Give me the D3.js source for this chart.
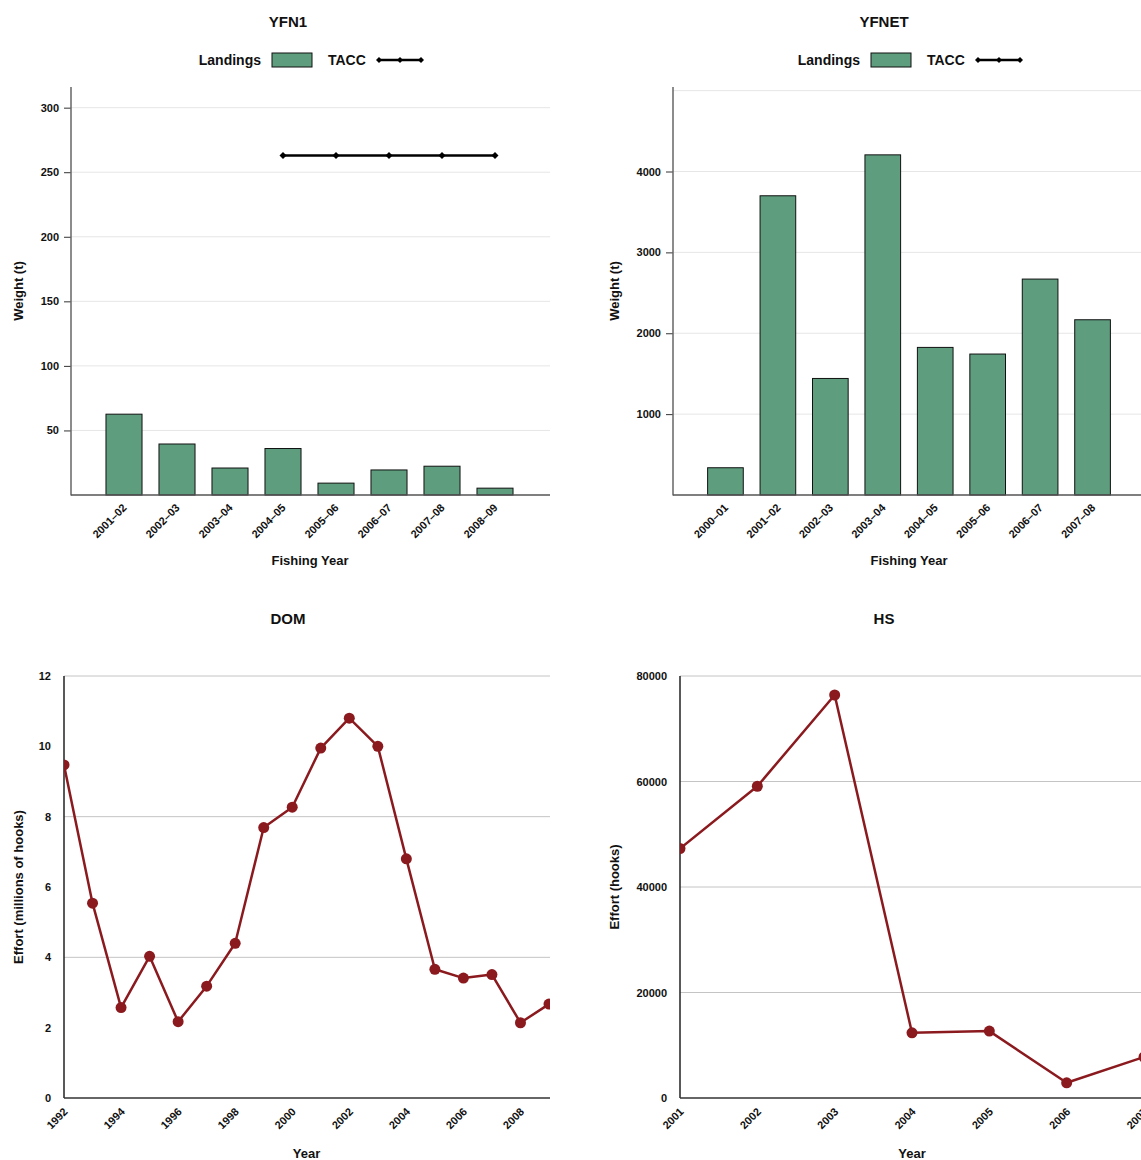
<!DOCTYPE html>
<html>
<head>
<meta charset="utf-8">
<script src="https://cdn.jsdelivr.net/npm/d3@7"></script>
<style>
  html, body { margin: 0; padding: 0; background: #fff; overflow: hidden; }
  svg { display: block; font-family: "Liberation Sans", Arial, sans-serif; font-weight: bold; }
</style>
</head>
<body>
<svg id="chart" width="1141" height="1160"></svg>
<script>
// ---- Landings and TACC (tonnes) by fishing year ----
const yfn1Years = ["2001–02", "2002–03", "2003–04", "2004–05", "2005–06", "2006–07", "2007–08", "2008–09"];
const yfn1Landings = [62.6, 39.5, 20.9, 36.0, 9.2, 19.4, 22.3, 5.3];
const yfn1TaccYears = ["2004–05", "2005–06", "2006–07", "2007–08", "2008–09"];
const yfn1Tacc = [263, 263, 263, 263, 263];
const yfn1Ticks = [50, 100, 150, 200, 250, 300];

const yfnetYears = ["2000–01", "2001–02", "2002–03", "2003–04", "2004–05", "2005–06", "2006–07", "2007–08"];
const yfnetLandings = [337, 3700, 1441, 4206, 1825, 1743, 2670, 2167];
const yfnetTicks = [1000, 2000, 3000, 4000];
const yfnetGrid = [1000, 2000, 3000, 4000, 5000];

// ---- Fishing effort by calendar year ----
const domYears = [1992, 1993, 1994, 1995, 1996, 1997, 1998, 1999, 2000, 2001, 2002, 2003, 2004, 2005, 2006, 2007, 2008, 2009];
const domEffort = [9.47, 5.54, 2.57, 4.03, 2.17, 3.18, 4.40, 7.69, 8.27, 9.95, 10.8, 10.0, 6.80, 3.66, 3.41, 3.51, 2.14, 2.67];
const domYTicks = [0, 2, 4, 6, 8, 10, 12];
const domGrid = [4, 8, 12];
const domXTicks = [1992, 1994, 1996, 1998, 2000, 2002, 2004, 2006, 2008];

const hsYears = [2001, 2002, 2003, 2004, 2005, 2006, 2007];
const hsEffort = [47300, 59100, 76400, 12350, 12680, 2880, 7770];
const hsYTicks = [0, 20000, 40000, 60000, 80000];
const hsGrid = [20000, 40000, 60000, 80000];

const svg = d3.select("#chart");
const BAR_FILL = "#5e9e7f";
const LINE_COL = "#8b1a1f";

function text(g, x, y, str, size, opts = {}) {
  const t = g.append("text").attr("x", x).attr("y", y).text(str)
    .attr("font-size", size).attr("fill", "#111")
    .attr("text-anchor", opts.anchor || "middle");
  if (opts.rotate) t.attr("transform", `rotate(${opts.rotate},${x},${y})`);
  if (opts.dy) t.attr("dy", opts.dy);
  return t;
}

function diamond(g, x, y, r) {
  g.append("path")
    .attr("d", `M${x},${y - r}L${x + r},${y}L${x},${y + r}L${x - r},${y}Z`)
    .attr("fill", "#000");
}

// Bar chart of landings with optional TACC line
function barPanel(cfg) {
  const g = svg.append("g");
  const x = d3.scalePoint().domain(cfg.cats).range([cfg.left, cfg.right]).padding(1);
  const y = d3.scaleLinear().domain([0, cfg.ymax]).range([cfg.bottom, cfg.top]);
  const bw = x.step() * 0.68;

  // gridlines
  g.selectAll(".grid").data(cfg.grid).join("line")
    .attr("x1", cfg.left).attr("x2", cfg.gridRight)
    .attr("y1", d => y(d)).attr("y2", d => y(d))
    .attr("stroke", "#e6e6e6").attr("stroke-width", 1);

  // bars
  g.selectAll(".bar").data(cfg.values).join("rect")
    .attr("x", (d, i) => x(cfg.cats[i]) - bw / 2)
    .attr("y", d => y(d))
    .attr("width", bw)
    .attr("height", d => y(0) - y(d))
    .attr("fill", BAR_FILL).attr("stroke", "#111").attr("stroke-width", 1);

  // TACC line
  if (cfg.tacc) {
    const pts = cfg.taccCats.map((c, i) => [x(c), y(cfg.tacc[i])]);
    g.append("path").attr("d", d3.line()(pts))
      .attr("fill", "none").attr("stroke", "#000").attr("stroke-width", 2.5);
    pts.forEach(p => diamond(g, p[0], p[1], 3.5));
  }

  // y axis
  const ya = g.append("g").attr("transform", `translate(${cfg.left},0)`)
    .call(d3.axisLeft(y).tickValues(cfg.ticks).tickSize(7).tickPadding(5).tickFormat(d3.format("d")));
  ya.select(".domain").remove();
  ya.selectAll(".tick line").attr("stroke", "#333");
  ya.selectAll("text").attr("font-size", 11).attr("fill", "#111").attr("font-family", null);
  g.append("line").attr("x1", cfg.left).attr("x2", cfg.left)
    .attr("y1", cfg.top).attr("y2", cfg.bottom + 0.5)
    .attr("stroke", "#666").attr("stroke-width", 1.5);

  // x axis
  g.append("line").attr("x1", cfg.left).attr("x2", cfg.gridRight)
    .attr("y1", cfg.bottom).attr("y2", cfg.bottom)
    .attr("stroke", "#555").attr("stroke-width", 1.5);
  cfg.cats.forEach(c => {
    const tx = x(c) - 2, ty = cfg.bottom + 8;
    g.append("text").text(c).attr("font-size", 11).attr("fill", "#111")
      .attr("text-anchor", "end").attr("dy", "0.7em")
      .attr("transform", `translate(${tx},${ty}) rotate(-45)`);
  });

  // titles
  text(g, cfg.titleX, 27, cfg.title, 15);
  text(g, cfg.xlabX, 565, "Fishing Year", 13);
  text(g, cfg.ylabX, (cfg.top + cfg.bottom) / 2, "Weight (t)", 13, { rotate: -90 });

  // legend
  const lx = cfg.xlabX - 111, ly = 60;
  text(g, lx + 62, ly + 5, "Landings", 14, { anchor: "end" });
  g.append("rect").attr("x", lx + 73).attr("y", ly - 7).attr("width", 40).attr("height", 14)
    .attr("fill", BAR_FILL).attr("stroke", "#111").attr("stroke-width", 1);
  text(g, lx + 129, ly + 5, "TACC", 14, { anchor: "start" });
  g.append("line").attr("x1", lx + 180).attr("x2", lx + 222).attr("y1", ly).attr("y2", ly)
    .attr("stroke", "#000").attr("stroke-width", 2.5);
  [lx + 180, lx + 201, lx + 222].forEach(px => diamond(g, px, ly, 3));
}

// Line chart of effort
function linePanel(cfg) {
  const g = svg.append("g");
  const x = d3.scaleLinear().domain(cfg.xdom).range([cfg.left, cfg.right]);
  const y = d3.scaleLinear().domain([0, cfg.ymax]).range([cfg.bottom, cfg.top]);
  const clipId = "clip-" + cfg.title;
  svg.append("clipPath").attr("id", clipId).append("rect")
    .attr("x", cfg.left).attr("y", cfg.top - 10)
    .attr("width", cfg.right - cfg.left + 1).attr("height", cfg.bottom - cfg.top + 20);

  g.selectAll(".grid").data(cfg.grid).join("line")
    .attr("x1", cfg.left).attr("x2", cfg.gridRight)
    .attr("y1", d => y(d)).attr("y2", d => y(d))
    .attr("stroke", "#c4c4c4").attr("stroke-width", 1);

  // axes
  g.append("line").attr("x1", cfg.left).attr("x2", cfg.left)
    .attr("y1", cfg.top).attr("y2", cfg.bottom)
    .attr("stroke", "#222").attr("stroke-width", 1.5);
  g.append("line").attr("x1", cfg.left).attr("x2", cfg.gridRight)
    .attr("y1", cfg.bottom).attr("y2", cfg.bottom)
    .attr("stroke", "#333").attr("stroke-width", 1.5);

  const ya = g.append("g").attr("transform", `translate(${cfg.left},0)`)
    .call(d3.axisLeft(y).tickValues(cfg.yticks).tickSize(0).tickPadding(13).tickFormat(d3.format("d")));
  ya.select(".domain").remove();
  ya.selectAll("text").attr("font-size", 11).attr("fill", "#111").attr("font-family", null);

  cfg.xticks.forEach(v => {
    const tx = x(v) - 1, ty = cfg.bottom + 9;
    g.append("text").text(v).attr("font-size", 11).attr("fill", "#111")
      .attr("text-anchor", "end").attr("dy", "0.7em")
      .attr("transform", `translate(${tx},${ty}) rotate(-45)`);
  });

  const pts = cfg.xs.map((v, i) => [x(v), y(cfg.ys[i])]);
  const data = g.append("g").attr("clip-path", `url(#${clipId})`);
  data.append("path").attr("d", d3.line()(pts))
    .attr("fill", "none").attr("stroke", LINE_COL).attr("stroke-width", 2.5)
    .attr("stroke-linejoin", "round");
  data.selectAll("circle").data(pts).join("circle")
    .attr("cx", d => d[0]).attr("cy", d => d[1]).attr("r", 5.5)
    .attr("fill", LINE_COL);

  text(g, cfg.titleX, 624, cfg.title, 15);
  text(g, (cfg.left + cfg.right) / 2, 1158, "Year", 13);
  text(g, cfg.ylabX, (cfg.top + cfg.bottom) / 2, cfg.ylab, 13, { rotate: -90 });
}

barPanel({
  title: "YFN1", titleX: 288, ylabX: 23, xlabX: 310,
  cats: yfn1Years, values: yfn1Landings, taccCats: yfn1TaccYears, tacc: yfn1Tacc,
  ticks: yfn1Ticks, grid: yfn1Ticks, ymax: 316,
  left: 71, right: 548, gridRight: 550, top: 87, bottom: 495
});

barPanel({
  title: "YFNET", titleX: 884, ylabX: 619, xlabX: 909,
  cats: yfnetYears, values: yfnetLandings,
  ticks: yfnetTicks, grid: yfnetGrid, ymax: 5045,
  left: 673, right: 1145, gridRight: 1160, top: 87, bottom: 495
});

linePanel({
  title: "DOM", titleX: 288, ylabX: 23, ylab: "Effort (millions of hooks)",
  xs: domYears, ys: domEffort, xdom: [1992, 2009], xticks: domXTicks,
  yticks: domYTicks, grid: domGrid, ymax: 12,
  left: 64, right: 549, gridRight: 550, top: 676, bottom: 1098
});

linePanel({
  title: "HS", titleX: 884, ylabX: 619, ylab: "Effort (hooks)",
  xs: hsYears, ys: hsEffort, xdom: [2001, 2007], xticks: hsYears,
  yticks: hsYTicks, grid: hsGrid, ymax: 80000,
  left: 680, right: 1144, gridRight: 1166, top: 676, bottom: 1098
});
</script>
</body>
</html>
